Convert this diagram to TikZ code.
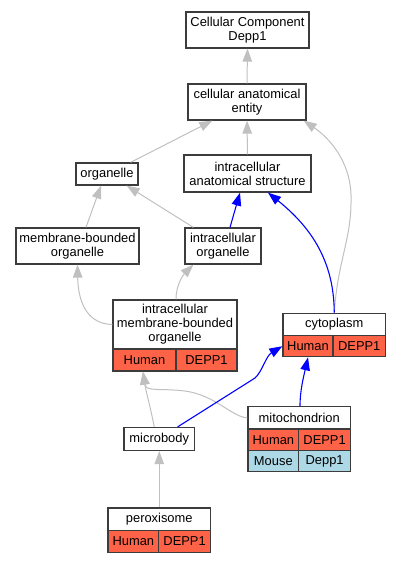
\documentclass[tikz,border=0pt]{standalone}
\usepackage{fontspec}
\setmainfont{Liberation Sans}
\usetikzlibrary{arrows.meta,calc}
\definecolor{edgegray}{HTML}{C0C0C0}
\definecolor{boxline}{HTML}{3C3C3C}
\definecolor{tomatofill}{HTML}{FF6347}
\definecolor{lbluefill}{HTML}{ADD8E6}
\definecolor{edgeblue}{HTML}{0000FF}
\begin{document}
\begin{tikzpicture}[x=1pt,y=-1pt,
  box/.style={draw=boxline, line width=1.25pt, fill=white, inner sep=0pt, align=center,
    font=\fontsize{12.9}{14}\selectfont},
  hcell/.style={box, fill=tomatofill},
  mcell/.style={box, fill=lbluefill},
  gedge/.style={draw=edgegray, line width=1pt, -{Triangle[length=13pt,width=9.5pt]}},
  bedge/.style={draw=edgeblue, line width=1.1pt, -{Triangle[length=13pt,width=9.5pt]}}]
\useasboundingbox (0,0) rectangle (401,563);
% nodes
\node[box, minimum width=123, minimum height=36] (root) at (247.5,30) {Cellular Component\\Depp1};
\node[box, minimum width=118, minimum height=36] (cae) at (247,102) {cellular anatomical\\entity};
\node[box, minimum width=62, minimum height=22] (organelle) at (107,174) {organelle};
\node[box, minimum width=127, minimum height=37] (ias) at (247.5,173.5) {intracellular\\anatomical structure};
\node[box, minimum width=123, minimum height=36] (mbo) at (77.5,246) {membrane-bounded\\organelle};
\node[box, minimum width=76, minimum height=36] (io) at (223,246) {intracellular\\organelle};
\node[box, minimum width=124, minimum height=49] (imbo) at (175,324.5) {intracellular\\membrane-bounded\\organelle};
\node[hcell, minimum width=63, minimum height=22] (imboH) at (144.5,360) {Human};
\node[hcell, minimum width=61, minimum height=22] (imboD) at (206.5,360) {DEPP1};
\node[box, minimum width=102.5, minimum height=22.5] (cyto) at (334.25,324.5) {cytoplasm};
\node[hcell, minimum width=50, minimum height=21] (cytoH) at (308,346.2) {Human};
\node[hcell, minimum width=52.5, minimum height=21] (cytoD) at (359.25,346.2) {DEPP1};
\node[box, minimum width=70.5, minimum height=23] (microbody) at (159.25,439) {microbody};
\node[box, minimum width=102.5, minimum height=22.3] (mito) at (299.25,417.85) {mitochondrion};
\node[hcell, minimum width=50.7, minimum height=21.7] (mitoH) at (273.35,439.85) {Human};
\node[hcell, minimum width=51.8, minimum height=21.7] (mitoD) at (324.6,439.85) {DEPP1};
\node[mcell, minimum width=50.7, minimum height=21] (mitoM) at (273.35,461.2) {Mouse};
\node[mcell, minimum width=51.8, minimum height=21] (mitoG) at (324.6,461.2) {Depp1};
\node[box, minimum width=102.5, minimum height=22.7] (perox) at (159.25,519.35) {peroxisome};
\node[hcell, minimum width=50.7, minimum height=21.6] (peroxH) at (133.35,541.5) {Human};
\node[hcell, minimum width=51.8, minimum height=21.6] (peroxD) at (184.6,541.5) {DEPP1};
% edges
\draw[gedge] (cae.north) -- (root.south);
\draw[gedge] ($(organelle.north east)+(-8,0)$) -- ($(cae.south west)+(25,0)$);
\draw[gedge] (ias.north) -- (cae.south);
\draw[gedge] (cyto.north) .. controls (338,258) and (352,240) .. (351,195)
  .. controls (350,160) and (328,137) .. ($(cae.south east)+(-3,0)$);
\draw[gedge] ($(mbo.north)+(8.5,0)$) -- ($(organelle.south)+(-6,0)$);
\draw[gedge] ($(io.north west)+(9,0)$) -- ($(organelle.south east)+(-12,0)$);
\draw[bedge] ($(io.north)+(7,0)$) -- ($(ias.south)+(-7.5,0)$);
\draw[bedge] (cyto.north) .. controls (334,262) and (312,228) .. ($(ias.south)+(20.5,0)$);
\draw[gedge] (imbo.west) .. controls (86,324) and (78,300) .. (mbo.south);
\draw[gedge] ($(imbo.north)+(1,0)$) .. controls (176,284) and (184,274) .. ($(io.south west)+(9,0)$);
\draw[gedge] ($(microbody.north)+(-5,0)$) .. controls (150,405) and (146,392) .. ($(imboH.south)+(-1.5,0)$);
\draw[gedge] (mito.west) .. controls (232,417) and (215,395) .. (185,391)
  .. controls (160,388) and (146,392) .. ($(imboH.south)+(-1.5,0)$);
\draw[bedge] ($(microbody.north east)+(-17.5,0)$) -- (255,378)
  .. controls (262,372) and (266,356) .. (cytoH.west);
\draw[bedge] ($(mito.north)+(0.75,0)$) .. controls (300,390) and (304,375) .. (cytoH.south);
\draw[gedge] (perox.north) -- (microbody.south);
\end{tikzpicture}
\end{document}
